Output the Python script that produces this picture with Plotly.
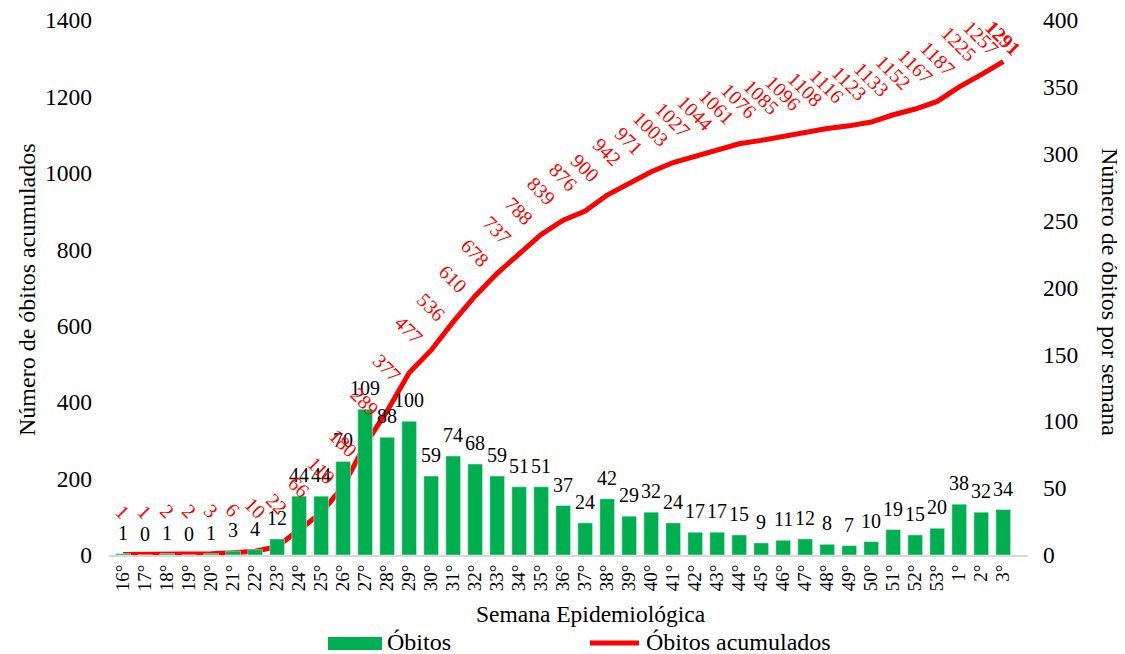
import plotly.graph_objects as go

semanas = ["16°","17°","18°","19°","20°","21°","22°","23°","24°","25°","26°","27°","28°","29°",
           "30°","31°","32°","33°","34°","35°","36°","37°","38°","39°","40°","41°","42°","43°",
           "44°","45°","46°","47°","48°","49°","50°","51°","52°","53°","1°","2°","3°"]
obitos = [1,0,1,0,1,3,4,12,44,44,70,109,88,100,59,74,68,59,51,51,37,24,42,29,32,24,17,17,
          15,9,11,12,8,7,10,19,15,20,38,32,34]
acumulados = [1,1,2,2,3,6,10,22,66,110,180,289,377,477,536,610,678,737,788,839,876,900,942,
              971,1003,1027,1044,1061,1076,1085,1096,1108,1116,1123,1133,1152,1167,1187,1225,
              1257,1291]

FONT = "Liberation Serif, Times New Roman, serif"
GREEN = "#00B050"
RED = "#FF0000"
Y1_MAX = 1400
Y2_MAX = 400

OFF = 8  # page body margin
W, H = 1125 - OFF, 654 - OFF
L, R, T, B = 109 - OFF, W - (1028 - OFF), 20 - OFF, H - (555 - OFF)
PW, PH = W - L - R, H - T - B


def px(x):
    return (x - OFF - L) / PW


def py(y):
    return (H - B - (y - OFF)) / PH


fig = go.Figure()
fig.add_trace(go.Bar(x=semanas, y=obitos, name="Óbitos", marker_color=GREEN,
                     yaxis="y2", showlegend=False))
fig.add_trace(go.Scatter(x=semanas, y=acumulados, name="Óbitos acumulados", mode="lines",
                         line=dict(color=RED, width=5), yaxis="y", showlegend=False))

annotations = []
for s, v in zip(semanas, obitos):
    annotations.append(dict(x=s, y=v, xref="x", yref="y2", text=str(v), showarrow=False,
                            yanchor="bottom", yshift=8,
                            font=dict(family=FONT, size=20, color="black")))
for i, (s, v) in enumerate(zip(semanas, acumulados)):
    txt = f"<b>{v}</b>" if i == len(acumulados) - 1 else str(v)
    # keep labels inside the chart area (label centre no higher than ~18px below the top)
    dist_top = PH * (1 - v / Y1_MAX)
    shift = min(43, dist_top - 18)
    annotations.append(dict(x=s, y=v, xref="x", yref="y", text=txt, showarrow=False,
                            textangle=45, yshift=shift, xanchor="center", yanchor="middle",
                            font=dict(family=FONT, size=20, color=RED)))
annotations.append(dict(x=px(27), y=py(290), xref="paper", yref="paper", text="Número de óbitos acumulados",
                        textangle=-90, showarrow=False, xanchor="center", yanchor="middle",
                        font=dict(family=FONT, size=24, color="black")))
annotations.append(dict(x=px(1110), y=py(292), xref="paper", yref="paper", text="Número de óbitos por semana",
                        textangle=90, showarrow=False, xanchor="center", yanchor="middle",
                        font=dict(family=FONT, size=24, color="black")))
annotations.append(dict(x=px(591), y=py(614), xref="paper", yref="paper", text="Semana Epidemiológica",
                        showarrow=False, xanchor="center", yanchor="middle",
                        font=dict(family=FONT, size=23.5, color="black")))
# legend
annotations.append(dict(x=px(385), y=py(642), xref="paper", yref="paper", text="Óbitos",
                        xanchor="left", yanchor="middle", showarrow=False,
                        font=dict(family=FONT, size=24, color="black")))
annotations.append(dict(x=px(644), y=py(642), xref="paper", yref="paper", text="Óbitos acumulados",
                        xanchor="left", yanchor="middle", showarrow=False,
                        font=dict(family=FONT, size=24, color="black")))
shapes = [
    dict(type="rect", xref="paper", yref="paper", x0=px(328), x1=px(382), y0=py(650), y1=py(637),
         fillcolor=GREEN, line=dict(width=0)),
    dict(type="line", xref="paper", yref="paper", x0=px(590), x1=px(639), y0=py(643), y1=py(643),
         line=dict(color=RED, width=5)),
]

fig.update_layout(
    width=W, height=H,
    margin=dict(l=L, r=R, t=T, b=B, autoexpand=False),
    paper_bgcolor="white", plot_bgcolor="white",
    font=dict(family=FONT, size=20, color="black"),
    bargap=0.33,
    showlegend=False,
    xaxis=dict(type="category", tickangle=-90, tickfont=dict(family=FONT, size=19),
               tickmode="array", tickvals=semanas, ticktext=semanas,
               showline=True, linecolor="#D9D9D9", linewidth=2, ticks="", automargin=False,
               showgrid=False, ticklabeloverflow="allow"),
    yaxis=dict(range=[0, Y1_MAX], dtick=200, showgrid=False, zeroline=False, ticks="",
               tickfont=dict(family=FONT, size=23.5), ticklabelstandoff=16, automargin=False,
               ticklabeloverflow="allow"),
    yaxis2=dict(range=[0, Y2_MAX], dtick=50, overlaying="y", side="right", showgrid=False,
                zeroline=False, ticks="", tickfont=dict(family=FONT, size=23.5), ticklabelstandoff=14,
                automargin=False, ticklabeloverflow="allow"),
    annotations=annotations,
    shapes=shapes,
)
fig.write_html("out.html")
